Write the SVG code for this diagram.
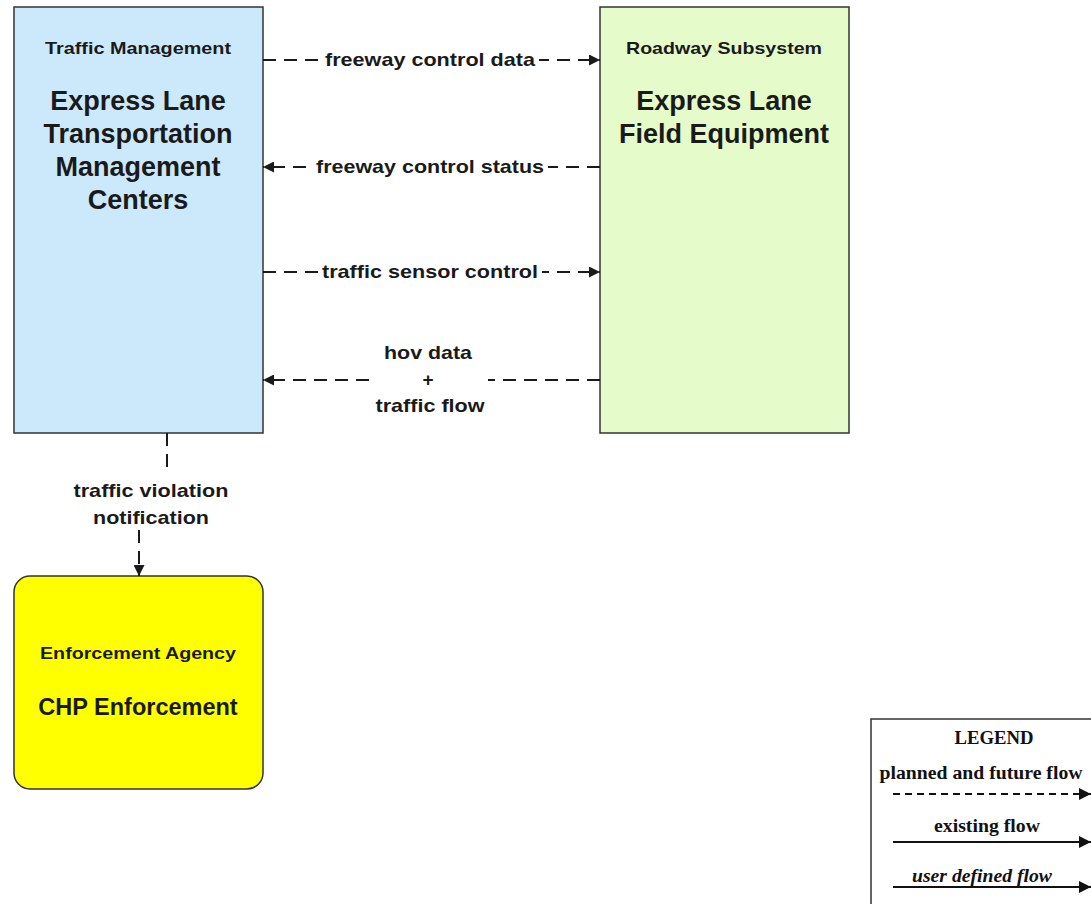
<svg xmlns="http://www.w3.org/2000/svg" width="1091" height="904" viewBox="0 0 1091 904">
<style>
.box{stroke:#333;stroke-width:1.5}
.t{font-family:"Liberation Sans",Arial,sans-serif;font-weight:bold;fill:#1a1a1a;text-anchor:middle}
.s{font-size:17px}
.b{font-size:27px}
.l{font-size:19px}
.c{fill:none;stroke:#1a1a1a;stroke-width:2;stroke-dasharray:13 8}
.lg{font-family:"Liberation Serif","Times New Roman",serif;font-weight:bold;fill:#111;text-anchor:middle;font-size:18px}
</style>
<defs>
<marker id="ah" viewBox="0 0 10 10" refX="10" refY="5" markerWidth="5.5" markerHeight="5.5" markerUnits="strokeWidth" orient="auto">
<path d="M0,0 L10,5 L0,10 z" fill="#1a1a1a"/>
</marker>
<marker id="ah2" viewBox="0 0 10 10" refX="10" refY="5" markerWidth="6" markerHeight="6" orient="auto">
<path d="M0,0 L10,5 L0,10 z" fill="#111"/>
</marker>
</defs>
<rect width="1091" height="904" fill="#fff"/>
<g id="tmc">
<rect class="box" x="14" y="7" width="249" height="426" fill="#cce9fc"/>
<text class="t s" x="138" y="54" textLength="186" lengthAdjust="spacingAndGlyphs">Traffic Management</text>
<text class="t b" x="138" y="110">Express Lane</text>
<text class="t b" x="138" y="143">Transportation</text>
<text class="t b" x="138" y="176">Management</text>
<text class="t b" x="138" y="209">Centers</text>
</g>
<g id="field">
<rect class="box" x="600" y="7" width="249" height="426" fill="#e5fbc9"/>
<text class="t s" x="724" y="54" textLength="196" lengthAdjust="spacingAndGlyphs">Roadway Subsystem</text>
<text class="t b" x="724" y="110">Express Lane</text>
<text class="t b" x="724" y="143">Field Equipment</text>
</g>
<g id="chp">
<rect class="box" x="14" y="576" width="249" height="213" rx="16" fill="#ffff00"/>
<text class="t s" x="138" y="659" textLength="196" lengthAdjust="spacingAndGlyphs">Enforcement Agency</text>
<text class="t" style="font-size:23.5px" x="138" y="715">CHP Enforcement</text>
</g>
<g id="connectors">
<path class="c" d="M263,60 H600" marker-end="url(#ah)"/>
<rect x="322" y="47" width="217" height="26" fill="#fff"/>
<text class="t l" x="430" y="66" textLength="210" lengthAdjust="spacingAndGlyphs">freeway control data</text>
<path class="c" d="M600,167 H263" marker-end="url(#ah)"/>
<rect x="313" y="154" width="235" height="26" fill="#fff"/>
<text class="t l" x="430" y="173" textLength="228" lengthAdjust="spacingAndGlyphs">freeway control status</text>
<path class="c" d="M263,272 H600" marker-end="url(#ah)"/>
<rect x="319" y="259" width="223" height="26" fill="#fff"/>
<text class="t l" x="430" y="278" textLength="216" lengthAdjust="spacingAndGlyphs">traffic sensor control</text>
<path class="c" d="M600,380 H263" marker-end="url(#ah)"/>
<rect x="372" y="340" width="116" height="78" fill="#fff"/>
<text class="t l" x="428" y="359" textLength="88" lengthAdjust="spacingAndGlyphs">hov data</text>
<text class="t l" x="428" y="386">+</text>
<text class="t l" x="430" y="412" textLength="109" lengthAdjust="spacingAndGlyphs">traffic flow</text>
<path class="c" d="M167,433 V472"/>
<path class="c" d="M139,530 V576" marker-end="url(#ah)"/>
<text class="t l" x="151" y="497" textLength="155" lengthAdjust="spacingAndGlyphs">traffic violation</text>
<text class="t l" x="151" y="524" textLength="116" lengthAdjust="spacingAndGlyphs">notification</text>
</g>
<g id="legend">
<rect x="871" y="719" width="230" height="200" fill="#fff" stroke="#333" stroke-width="1.5"/>
<text class="lg" x="994" y="744" textLength="79" lengthAdjust="spacingAndGlyphs">LEGEND</text>
<text class="lg" x="981" y="779" textLength="203" lengthAdjust="spacingAndGlyphs">planned and future flow</text>
<path d="M893,794 H1091" stroke="#111" stroke-width="2" stroke-dasharray="7 5" fill="none" marker-end="url(#ah2)"/>
<text class="lg" x="987" y="832" textLength="106" lengthAdjust="spacingAndGlyphs">existing flow</text>
<path d="M893,842 H1091" stroke="#111" stroke-width="2" fill="none" marker-end="url(#ah2)"/>
<text class="lg" x="982" y="882" style="font-style:italic" textLength="140" lengthAdjust="spacingAndGlyphs">user defined flow</text>
<path d="M893,887 H1091" stroke="#111" stroke-width="2" fill="none" marker-end="url(#ah2)"/>
</g>
</svg>
